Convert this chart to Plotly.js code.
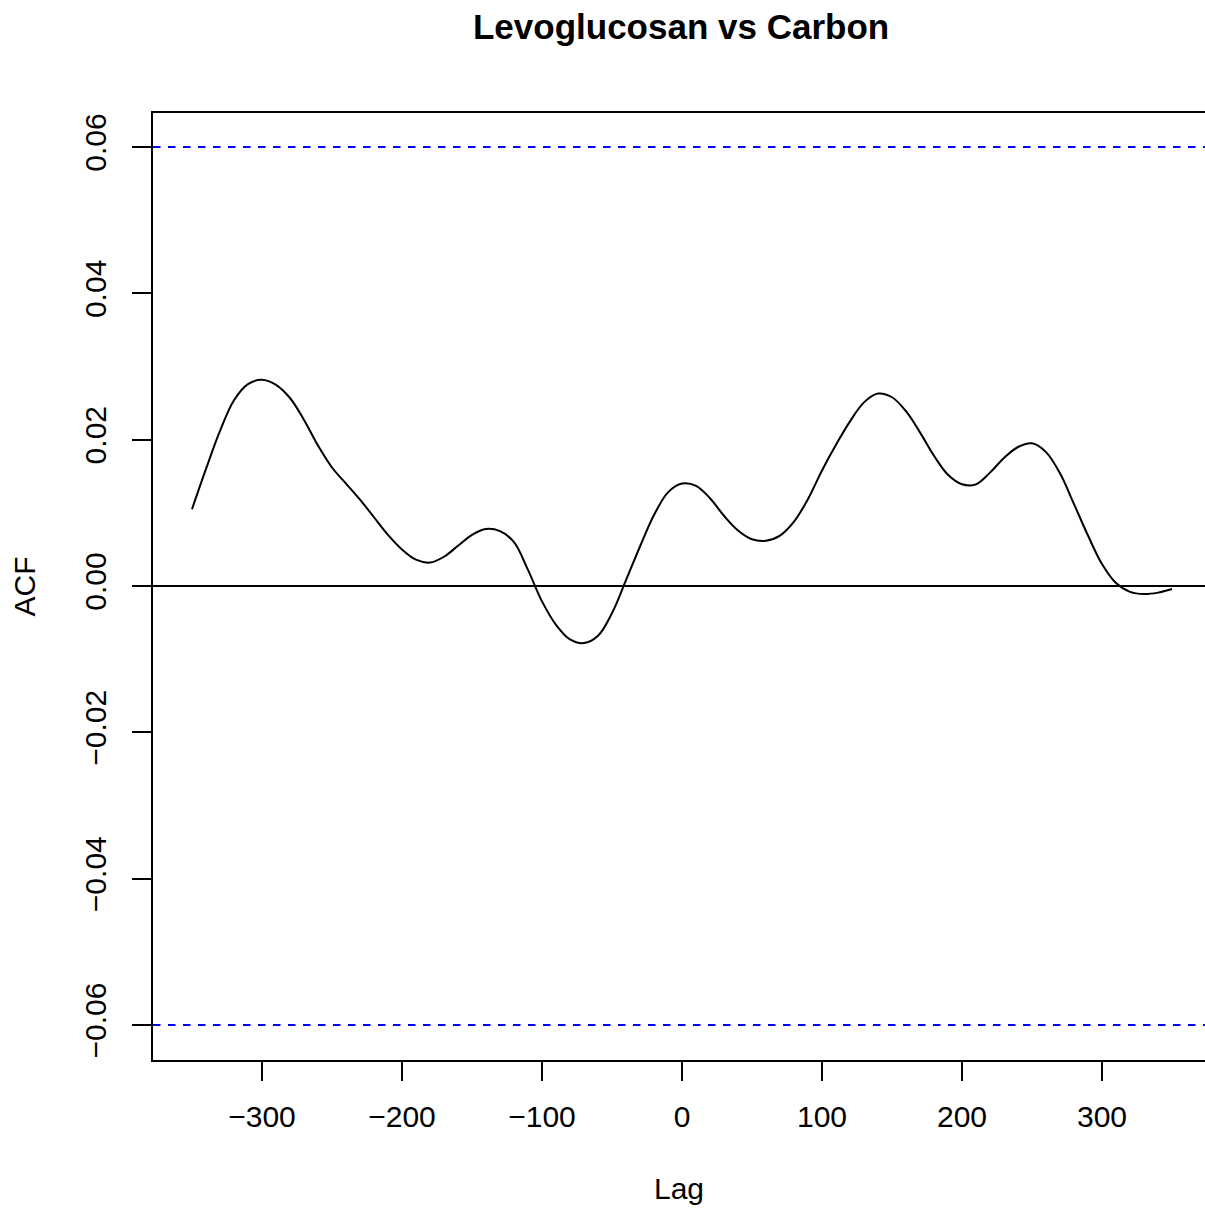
<!DOCTYPE html>
<html>
<head>
<meta charset="utf-8">
<script src="https://cdn.plot.ly/plotly-3.0.1.min.js"></script>
<style>
  html, body { margin: 0; padding: 0; background: #ffffff; overflow: hidden; }
  #chart { width: 1205px; height: 1209px; }
</style>
</head>
<body>
<div id="chart"></div>
<script>
// Cross-correlation of levoglucosan and carbon, by lag
const lags = [-350, -340, -330, -320, -310, -300, -290, -280, -270, -260, -250, -240, -230, -220,
  -210, -200, -190, -180, -170, -160, -150, -140, -130, -120, -110, -100, -90, -80, -70, -60, -50,
  -40, -30, -20, -10, 0, 10, 20, 30, 40, 50, 60, 70, 80, 90, 100, 110, 120, 130, 140, 150, 160,
  170, 180, 190, 200, 210, 220, 230, 240, 250, 260, 270, 280, 290, 300, 310, 320, 330, 340, 350];
const acf = [0.0105, 0.0160, 0.0212, 0.0254, 0.0276, 0.0282, 0.0275, 0.0257, 0.0227, 0.0192,
  0.0162, 0.0140, 0.0118, 0.0094, 0.0070, 0.0050, 0.0036, 0.0032, 0.0040, 0.0055, 0.0070, 0.0078,
  0.0075, 0.0060, 0.0022, -0.0021, -0.0053, -0.0073, -0.0078, -0.0068, -0.0037, 0.0008, 0.0054,
  0.0097, 0.0128, 0.0140, 0.0137, 0.0120, 0.0096, 0.0076, 0.0064, 0.0062, 0.0069, 0.0088, 0.0119,
  0.0158, 0.0193, 0.0225, 0.0251, 0.0263, 0.0258, 0.0239, 0.0210, 0.0178, 0.0152, 0.0139, 0.0139,
  0.0155, 0.0175, 0.0190, 0.0195, 0.0183, 0.0154, 0.0112, 0.0069, 0.0030, 0.0004, -0.0008,
  -0.0011, -0.0009, -0.0004];

// Approximate 95% significance bounds
const ciBounds = [0.06, -0.06];

const xTicks = [-300, -200, -100, 0, 100, 200, 300];
const xTickText = ['\u2212300', '\u2212200', '\u2212100', '0', '100', '200', '300'];
const yTicks = [-0.06, -0.04, -0.02, 0.00, 0.02, 0.04, 0.06];
const yTickText = ['\u22120.06', '\u22120.04', '\u22120.02', '0.00', '0.02', '0.04', '0.06'];

const FONT = 'Liberation Sans, Arial, Helvetica, sans-serif';

const traces = [{
  type: 'scatter',
  mode: 'lines',
  x: lags,
  y: acf,
  line: { color: '#000000', width: 2, shape: 'spline' },
  hoverinfo: 'x+y',
  showlegend: false
}];

const shapes = ciBounds.map(v => ({
  type: 'line', xref: 'paper', yref: 'y',
  x0: 0, x1: 1, y0: v, y1: v,
  line: { color: '#0000ff', width: 2, dash: '7.5px,7.5px' }
}));

const layout = {
  width: 1205,
  height: 1209,
  margin: { l: 153, r: 0, t: 113, b: 149, pad: 0 },
  paper_bgcolor: '#ffffff',
  plot_bgcolor: '#ffffff',
  font: { family: FONT, size: 30, color: '#000000' },
  title: {
    text: '<b>Levoglucosan vs Carbon</b>',
    font: { family: FONT, size: 35, color: '#000000' },
    x: 0.502, xref: 'paper', xanchor: 'center',
    y: 1 - 27 / 1209, yref: 'container', yanchor: 'middle'
  },
  xaxis: {
    range: [-377.86, 373.57],
    tickvals: xTicks,
    ticktext: xTickText,
    ticks: 'outside', ticklen: 19, tickwidth: 2, tickcolor: '#000000',
    ticklabelstandoff: 10,
    showline: true, mirror: true, linecolor: '#000000', linewidth: 2,
    showgrid: false, zeroline: false,
    tickfont: { family: FONT, size: 30 },
    title: { text: 'Lag', font: { family: FONT, size: 30 }, standoff: 46 },
    automargin: false
  },
  yaxis: {
    range: [-0.06478, 0.06465],
    tickvals: yTicks,
    ticktext: yTickText,
    tickangle: -90,
    ticks: 'outside', ticklen: 19, tickwidth: 2, tickcolor: '#000000',
    ticklabelstandoff: 14,
    showline: true, mirror: true, linecolor: '#000000', linewidth: 2,
    showgrid: false,
    zeroline: true, zerolinecolor: '#000000', zerolinewidth: 2,
    tickfont: { family: FONT, size: 30 },
    title: { text: 'ACF', font: { family: FONT, size: 30 }, standoff: 35 },
    automargin: false
  },
  shapes: shapes,
  showlegend: false
};

Plotly.newPlot('chart', traces, layout, { displayModeBar: false, staticPlot: true });
</script>
</body>
</html>
